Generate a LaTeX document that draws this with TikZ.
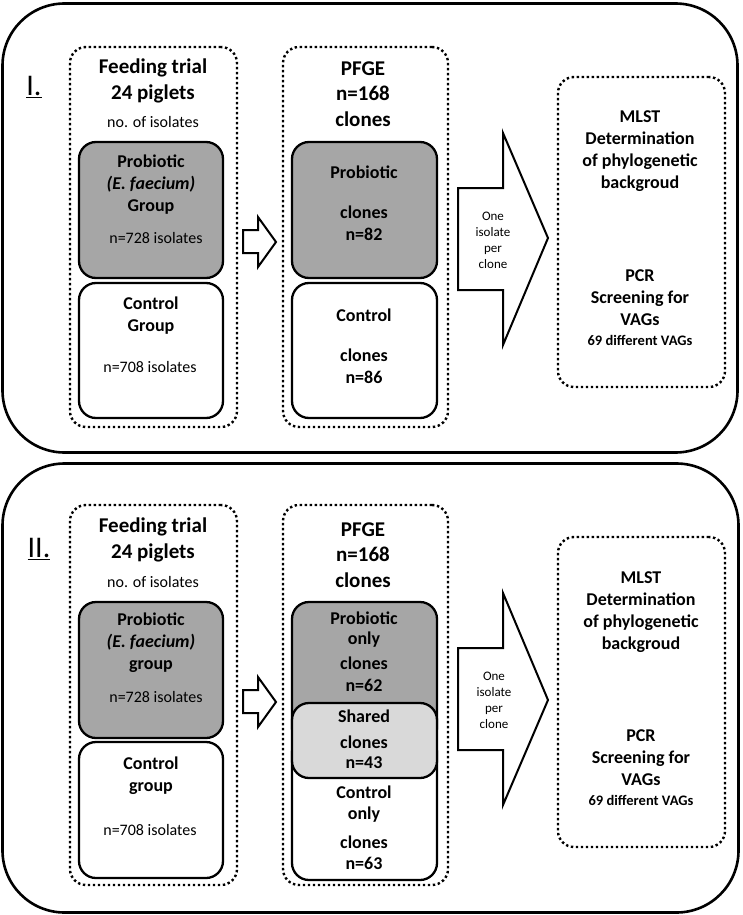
\documentclass[tikz,border=0pt]{standalone}
\usepackage{fontspec}
\setmainfont{Carlito}
\definecolor{darkfill}{RGB}{166,166,166}
\definecolor{lightfill}{RGB}{217,217,217}
\tikzset{
 panel/.style={draw, line width=2.6pt, rounded corners=62pt, inner sep=0pt},
 dotbox/.style={draw, line width=2.4pt, dash pattern=on 2.4pt off 2.6pt, rounded corners=16pt, inner sep=0pt},
 solidbox/.style={draw, line width=2.3pt, rounded corners=17pt, inner sep=0pt, fill=white},
 graybox/.style={solidbox, fill=darkfill},
 lightbox/.style={solidbox, fill=lightfill},
 blockarrow/.style={draw, line width=2pt, fill=white, line join=miter},
 title/.style={font=\bfseries\fontsize{21}{25.5}\selectfont, align=center, inner sep=0pt},
 btext/.style={font=\bfseries\fontsize{18}{22}\selectfont, align=center, inner sep=0pt},
 rtext/.style={font=\fontsize{16}{19}\selectfont, align=center, inner sep=0pt},
 stext/.style={font=\fontsize{13}{16}\selectfont, align=center, inner sep=0pt},
 vtext/.style={font=\bfseries\fontsize{14.5}{17}\selectfont, inner sep=0pt},
 roman/.style={font=\fontsize{30}{30}\selectfont, inner sep=0pt}
}
\begin{document}
\begin{tikzpicture}[x=1pt,y=-1pt]
\useasboundingbox (0,0) rectangle (742,915);
% ================= Panel I =================
\node[panel, minimum width=735pt, minimum height=449pt] (panelI) at (370,228) {};
\node[roman] (romI) at (34,87) {\underline{I.}};
% left column
\node[dotbox, minimum width=167pt, minimum height=380pt] (L1) at (153.5,237) {};
\node[title] (L1t) at (153,81) {Feeding trial\\24 piglets};
\node[rtext] (L1s) at (153,122) {no. of isolates};
\node[graybox, minimum width=144pt, minimum height=136pt] (P1) at (151,210) {};
\node[btext] (P1t) at (151,185) {Probiotic\\\textit{(E. faecium)}\\Group};
\node[rtext] (P1n) at (156,238) {n=728 isolates};
\node[solidbox, minimum width=144pt, minimum height=135pt] (C1) at (151,350.5) {};
\node[btext] (C1t) at (151,316) {Control\\Group};
\node[rtext] (C1n) at (150,367) {n=708 isolates};
% small arrow
\draw[blockarrow] (243,230) -- (258,230) -- (258,217) -- (276,242) -- (258,267) -- (258,253) -- (243,253) -- cycle;
% middle column
\node[dotbox, minimum width=165pt, minimum height=380pt] (M1) at (365.5,237) {};
\node[title] (M1t) at (363,94) {PFGE\\n=168\\clones};
\node[graybox, minimum width=145pt, minimum height=136pt] (MP1) at (364.5,210) {};
\node[btext] (MP1a) at (364,172) {Probiotic};
\node[btext] (MP1b) at (364,223) {clones\\n=82};
\node[solidbox, minimum width=145pt, minimum height=135pt] (MC1) at (364.5,350.5) {};
\node[btext] (MC1a) at (364,315) {Control};
\node[btext] (MC1b) at (364,366) {clones\\n=86};
% big arrow
\draw[blockarrow] (458,188) -- (503,188) -- (503,133) -- (548,238) -- (503,345) -- (503,290) -- (458,290) -- cycle;
\node[stext] (A1t) at (493,240) {One\\isolate\\per\\clone};
% right column
\node[dotbox, minimum width=167pt, minimum height=310pt] (R1) at (641.5,232) {};
\node[btext] (R1a) at (640,151.5) {MLST\\Determination\\of phylogenetic\\backgroud};
\node[btext] (R1b) at (640,298) {PCR\\Screening for\\VAGs};
\node[vtext] (R1c) at (640,340) {69 different VAGs};
% ================= Panel II =================
\node[panel, minimum width=736pt, minimum height=449pt] (panelII) at (370.5,688) {};
\node[roman] (romII) at (39,549) {\underline{II.}};
% left column
\node[dotbox, minimum width=167pt, minimum height=380pt] (L2) at (153.5,695) {};
\node[title] (L2t) at (153,540) {Feeding trial\\24 piglets};
\node[rtext] (L2s) at (153,582) {no. of isolates};
\node[graybox, minimum width=144pt, minimum height=136pt] (P2) at (151,670) {};
\node[btext] (P2t) at (151,643) {Probiotic\\\textit{(E. faecium)}\\group};
\node[rtext] (P2n) at (156,697) {n=728 isolates};
\node[solidbox, minimum width=144pt, minimum height=136pt] (C2) at (151,810) {};
\node[btext] (C2t) at (151,776) {Control\\group};
\node[rtext] (C2n) at (150,830) {n=708 isolates};
% small arrow
\draw[blockarrow] (243,690) -- (258,690) -- (258,677) -- (276,702) -- (258,727) -- (258,713) -- (243,713) -- cycle;
% middle column
\node[dotbox, minimum width=165pt, minimum height=380pt] (M2) at (365.5,695) {};
\node[title] (M2t) at (363,555) {PFGE\\n=168\\clones};
\node[graybox, minimum width=145pt, minimum height=143pt] (MP2) at (364.5,673.5) {};
\node[solidbox, minimum width=145pt, minimum height=145pt] (MC2) at (364.5,807.5) {};
\node[lightbox, minimum width=145pt, minimum height=75pt] (MS2) at (364.5,740.5) {};
\node[btext] (MP2a) at (364,618) {Probiotic};
\node[btext] (MP2b) at (364,640) {only};
\node[btext] (MP2c) at (364,663) {clones};
\node[btext] (MP2d) at (364,685) {n=62};
\node[btext] (MS2a) at (364,716) {Shared};
\node[btext] (MS2b) at (364,742) {clones};
\node[btext] (MS2c) at (364,763) {n=43};
\node[btext] (MC2a) at (364,792) {Control};
\node[btext] (MC2b) at (364,815) {only};
\node[btext] (MC2c) at (364,842) {clones};
\node[btext] (MC2d) at (364,863) {n=63};
% big arrow
\draw[blockarrow] (458,648) -- (503,648) -- (503,593) -- (548,700) -- (503,805) -- (503,750) -- (458,750) -- cycle;
\node[stext] (A2t) at (494,700) {One\\isolate\\per\\clone};
% right column
\node[dotbox, minimum width=167pt, minimum height=310pt] (R2) at (641.5,692) {};
\node[btext] (R2a) at (641,612.5) {MLST\\Determination\\of phylogenetic\\backgroud};
\node[btext] (R2b) at (641,758) {PCR\\Screening for\\VAGs};
\node[vtext] (R2c) at (641,800) {69 different VAGs};
\end{tikzpicture}
\end{document}
